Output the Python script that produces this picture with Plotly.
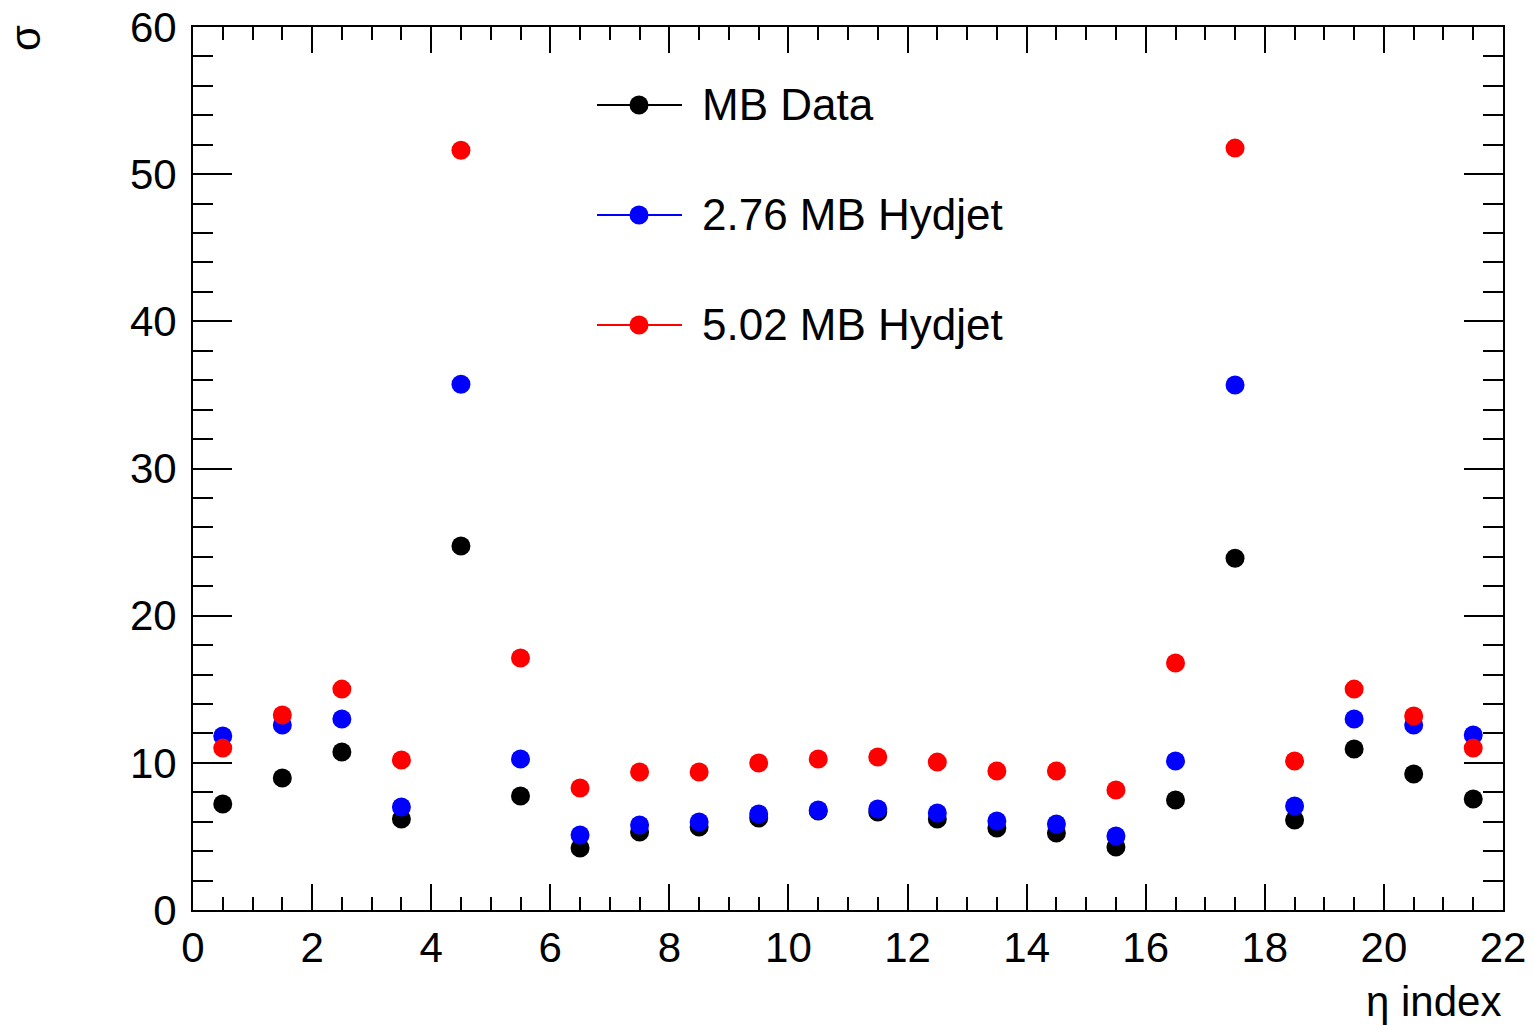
import plotly.graph_objects as go

eta_index = [0.5, 1.5, 2.5, 3.5, 4.5, 5.5, 6.5, 7.5, 8.5, 9.5, 10.5,
             11.5, 12.5, 13.5, 14.5, 15.5, 16.5, 17.5, 18.5, 19.5, 20.5, 21.5]
mb_data = [7.2, 8.97, 10.73, 6.18, 24.73, 7.74, 4.21, 5.3, 5.64, 6.25, 6.73,
           6.66, 6.18, 5.57, 5.23, 4.28, 7.47, 23.9, 6.11, 10.94, 9.24, 7.54]
hydjet_276 = [11.82, 12.57, 12.98, 7.0, 35.73, 10.26, 5.1, 5.77, 5.98, 6.52, 6.79,
              6.86, 6.59, 6.05, 5.84, 5.03, 10.12, 35.67, 7.07, 12.98, 12.57, 11.89]
hydjet_502 = [11.0, 13.25, 15.01, 10.19, 51.63, 17.12, 8.29, 9.38, 9.38, 9.99, 10.26,
              10.39, 10.05, 9.44, 9.44, 8.15, 16.78, 51.77, 10.12, 15.01, 13.18, 11.0]

series_names = ["MB Data", "2.76 MB Hydjet", "5.02 MB Hydjet"]
series_values = [mb_data, hydjet_276, hydjet_502]
series_colors = ["#000000", "#0000ff", "#ff0000"]

FONT = "Liberation Sans, Arial, Helvetica, sans-serif"

# plot-area geometry in pixels (for legend placement in paper coords)
W, H = 1533, 1025
ML, MR, MT, MB = 193, 30, 27, 115
PW, PH = W - ML - MR, H - MT - MB


def px_x(px):
    return (px - ML) / PW


def px_y(py):
    return (H - MB - py) / PH


fig = go.Figure()
for name, vals, col in zip(series_names, series_values, series_colors):
    fig.add_trace(go.Scatter(
        x=eta_index, y=vals, name=name, mode="markers",
        marker=dict(color=col, size=19, line=dict(width=0)),
        cliponaxis=False, showlegend=False,
    ))

axis_common = dict(
    showline=True, linecolor="black", linewidth=2, mirror="ticks",
    ticks="inside", tickcolor="black", tickwidth=2,
    showgrid=False, zeroline=False, automargin=False,
    tickfont=dict(family=FONT, size=42, color="black"),
)

fig.update_xaxes(
    range=[0, 22], dtick=2, tick0=0, ticklen=26,
    minor=dict(dtick=0.5, tick0=0, ticklen=13, ticks="inside", tickcolor="black", tickwidth=2, showgrid=False),
    **axis_common,
)
fig.update_yaxes(
    range=[0, 60], dtick=10, tick0=0, ticklen=39, ticklabelstandoff=6,
    minor=dict(dtick=2, tick0=0, ticklen=20, ticks="inside", tickcolor="black", tickwidth=2, showgrid=False),
    **axis_common,
)

# custom legend (ROOT-style: line with marker)
shapes = []
annotations = []
legend_rows_px = [105, 215, 325]
r = 9.5
for name, col, ypx in zip(series_names, series_colors, legend_rows_px):
    shapes.append(dict(type="line", xref="paper", yref="paper",
                       x0=px_x(597), x1=px_x(682), y0=px_y(ypx), y1=px_y(ypx),
                       line=dict(color=col, width=2)))
    shapes.append(dict(type="circle", xref="paper", yref="paper",
                       x0=px_x(639 - r), x1=px_x(639 + r),
                       y0=px_y(ypx + r), y1=px_y(ypx - r),
                       fillcolor=col, line=dict(color=col, width=0)))
    annotations.append(dict(text=name, xref="paper", yref="paper",
                            x=px_x(700), y=px_y(ypx - 1), xanchor="left", yanchor="middle",
                            showarrow=False,
                            font=dict(family=FONT, size=44, color="black")))

annotations.append(dict(text="η index", xref="paper", yref="paper",
                        x=px_x(1503), y=px_y(976), xanchor="right", yanchor="top",
                        showarrow=False, font=dict(family=FONT, size=42, color="black")))
annotations.append(dict(text="σ", xref="paper", yref="paper",
                        x=px_x(25), y=px_y(38), xanchor="center", yanchor="middle",
                        textangle=-90, showarrow=False,
                        font=dict(family=FONT, size=42, color="black")))

fig.update_layout(
    width=W, height=H,
    margin=dict(l=ML, r=MR, t=MT, b=MB, autoexpand=False),
    paper_bgcolor="white", plot_bgcolor="white",
    showlegend=False,
    shapes=shapes,
    annotations=annotations,
)

fig.write_html("out.html",
               config={"displayModeBar": False},
               post_script="document.body.style.margin='0';document.body.style.overflow='hidden';")
